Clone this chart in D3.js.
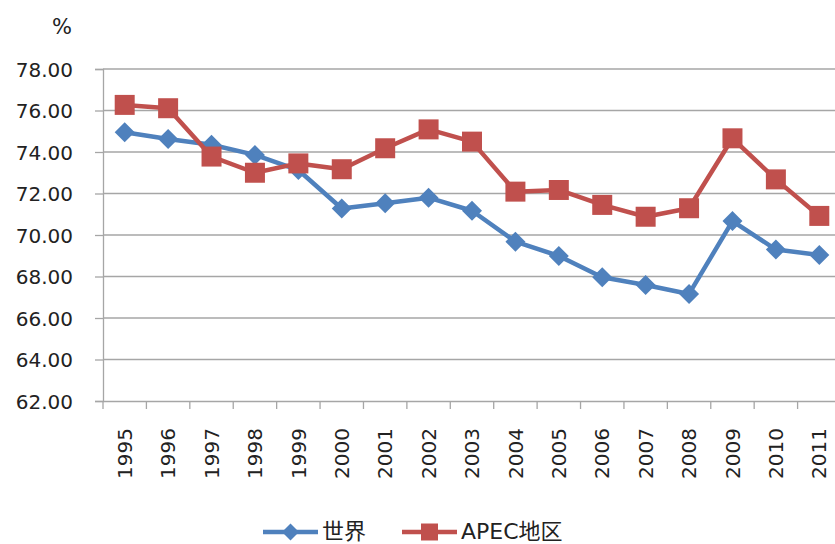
<!DOCTYPE html>
<html>
<head>
<meta charset="utf-8">
<script src="https://cdn.jsdelivr.net/npm/d3@7"></script>
<style>
	body { margin: 0; background: #fff; }
	svg { display: block; }
	.tick text { font-family: "DejaVu Sans", sans-serif; fill: #222; }
</style>
</head>
<body>
<script>
const years = ["1995", "1996", "1997", "1998", "1999", "2000", "2001", "2002", "2003",
	"2004", "2005", "2006", "2007", "2008", "2009", "2010", "2011"];
const world = [74.95, 74.63, 74.35, 73.86, 73.13, 71.28, 71.53, 71.8, 71.17,
	69.68, 68.99, 67.96, 67.59, 67.16, 70.67, 69.3, 69.04];
const apec = [76.27, 76.11, 73.78, 73.0, 73.45, 73.17, 74.18, 75.09, 74.5,
	72.09, 72.17, 71.45, 70.88, 71.29, 74.66, 72.68, 70.92];
const yTicks = [62, 64, 66, 68, 70, 72, 74, 76, 78];
const seriesNames = ["世界", "APEC地区"];

const width = 835, height = 544;
const plotLeft = 103, plotRight = 841, plotTop = 69, plotBottom = 401;

const svg = d3.select("body").append("svg")
	.attr("width", width)
	.attr("height", height);

let x = d3.scaleBand().domain(years).range([plotLeft, plotRight]);
let y = d3.scaleLinear().domain([62, 78]).range([plotBottom, plotTop]);

// grid
svg.append("g")
	.selectAll("line")
	.data(yTicks.slice(1))
	.enter()
	.append("line")
	.attr("x1", plotLeft)
	.attr("x2", width)
	.attr("y1", (d) => y(d))
	.attr("y2", (d) => y(d))
	.attr("stroke", "#a6a6a6")
	.attr("stroke-width", 1.3);

let yAxis = d3.axisLeft(y).tickValues(yTicks).tickSize(8).tickPadding(22)
	.tickFormat(d3.format(".2f"));
let gy = svg.append("g")
	.attr("transform", "translate(" + plotLeft + ",0)")
	.call(yAxis);
gy.selectAll("line, path").attr("stroke", "#a6a6a6").attr("stroke-width", 1.3);
gy.selectAll("text").attr("font-size", 20).attr("dy", "0.36em");

let xAxis = d3.axisBottom(x).tickSize(0);
let gx = svg.append("g")
	.attr("transform", "translate(0," + plotBottom + ")")
	.call(xAxis);
gx.select("path").attr("stroke", "#a6a6a6").attr("stroke-width", 1.3);
gx.selectAll("text")
	.attr("font-size", 20)
	.attr("transform", "rotate(-90)")
	.attr("text-anchor", "end")
	.attr("x", -27)
	.attr("y", 0)
	.attr("dy", "0.36em");

// category tick marks on x axis
svg.append("g")
	.selectAll("line")
	.data(years)
	.enter()
	.append("line")
	.attr("x1", (d) => x(d))
	.attr("x2", (d) => x(d))
	.attr("y1", plotBottom)
	.attr("y2", plotBottom + 8)
	.attr("stroke", "#a6a6a6")
	.attr("stroke-width", 1.3);

svg.append("text")
	.attr("x", 62)
	.attr("y", 34)
	.attr("text-anchor", "middle")
	.attr("font-family", "DejaVu Sans, sans-serif")
	.attr("font-size", 21)
	.attr("fill", "#222")
	.text("%");

let line = d3.line()
	.x((d, i) => x(years[i]) + x.bandwidth() / 2)
	.y((d) => y(d));

const blue = "#4f81bd", red = "#c0504d";

function drawSeries(values, color, shape) {
	svg.append("path")
		.datum(values)
		.attr("fill", "none")
		.attr("stroke", color)
		.attr("stroke-width", 4.5)
		.attr("stroke-linejoin", "round")
		.attr("d", line);
	svg.append("g")
		.selectAll("path")
		.data(values)
		.enter()
		.append("path")
		.attr("transform", (d, i) => "translate(" + (x(years[i]) + x.bandwidth() / 2) + "," + y(d) + ")")
		.attr("d", shape)
		.attr("fill", color);
}

const diamond = "M0,-10L10,0L0,10L-10,0Z";
const square = "M-10,-10H10V10H-10Z";

drawSeries(world, blue, diamond);
drawSeries(apec, red, square);

// legend
let legend = svg.append("g");
let items = [
	{ name: seriesNames[0], color: blue, shape: diamond, x: 263 },
	{ name: seriesNames[1], color: red, shape: square, x: 402 }
];
items.forEach((it) => {
	legend.append("line")
		.attr("x1", it.x).attr("x2", it.x + 55)
		.attr("y1", 532).attr("y2", 532)
		.attr("stroke", it.color).attr("stroke-width", 4.5);
	legend.append("path")
		.attr("transform", "translate(" + (it.x + 27.5) + ",532) scale(0.85)")
		.attr("d", it.shape)
		.attr("fill", it.color);
	legend.append("text")
		.attr("x", it.x + 59)
		.attr("y", 531)
		.attr("dy", "0.36em")
		.attr("font-family", "DejaVu Sans, 'Noto Sans CJK SC', sans-serif")
		.attr("font-size", 22)
		.attr("fill", "#222")
		.text(it.name);
});
</script>
</body>
</html>
